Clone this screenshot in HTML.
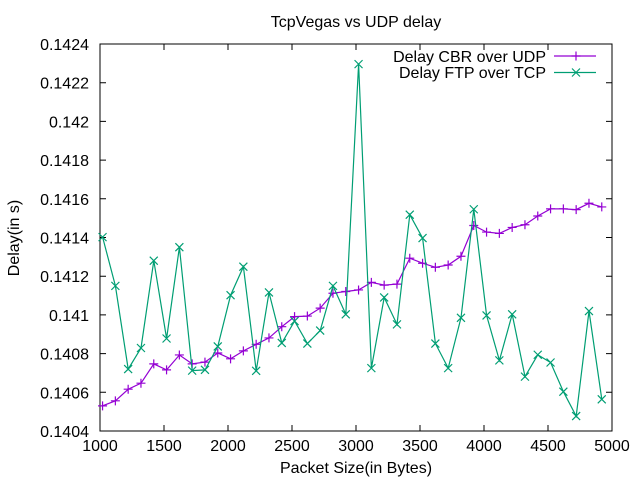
<!DOCTYPE html>
<html><head><meta charset="utf-8"><style>
body{margin:0;background:#fff;}
svg{display:block;font-family:"Liberation Sans",sans-serif;}
</style></head><body>
<svg id="chart" width="640" height="480" viewBox="0 0 640 480" xmlns="http://www.w3.org/2000/svg">
<rect width="640" height="480" fill="#fff"/>
<text x="356" y="27" font-size="16" text-anchor="middle">TcpVegas vs UDP delay</text>
<text transform="translate(19,238) rotate(-90)" font-size="16" text-anchor="middle">Delay(in s)</text>
<text x="356" y="473" font-size="16" text-anchor="middle">Packet Size(in Bytes)</text>
<g id="axes"></g>
<g id="series"></g>
<g>
<text x="546" y="62" font-size="16" text-anchor="end">Delay CBR over UDP</text>
<line x1="554" y1="56" x2="596" y2="56" stroke="#9400d3" stroke-width="1.2"/>
<path d="M571.5 56h9M576 51.5v9" stroke="#9400d3" stroke-width="1.2"/>
<text x="546" y="78" font-size="16" text-anchor="end">Delay FTP over TCP</text>
<line x1="554" y1="72.5" x2="596" y2="72.5" stroke="#009e73" stroke-width="1.2"/>
<path d="M572 68.5l8 8M580 68.5l-8 8" stroke="#009e73" stroke-width="1.2"/>
</g>
</svg>
<script>
const xValues = [1020,1120,1220,1320,1420,1520,1620,1720,1820,1920,2020,2120,2220,2320,2420,2520,2620,2720,2820,2920,3020,3120,3220,3320,3420,3520,3620,3720,3820,3920,4020,4120,4220,4320,4420,4520,4620,4720,4820,4920];
const cbrDelay = [0.14053,0.140556,0.140616,0.140647,0.140747,0.140716,0.140793,0.140747,0.140756,0.140803,0.140773,0.140814,0.140848,0.140881,0.140939,0.140991,0.140994,0.141035,0.141112,0.141121,0.141129,0.141168,0.141154,0.141159,0.141293,0.141267,0.141246,0.141258,0.141303,0.141462,0.141428,0.141421,0.141452,0.141466,0.141511,0.141548,0.141548,0.141544,0.141577,0.141558];
const ftpDelay = [0.141402,0.14115,0.14072,0.140829,0.14128,0.140878,0.14135,0.140712,0.140716,0.140837,0.141102,0.141249,0.140711,0.141116,0.140855,0.140968,0.140852,0.140919,0.14115,0.141003,0.142296,0.140725,0.14109,0.140951,0.141518,0.141397,0.140852,0.140725,0.140985,0.141546,0.140997,0.140765,0.141003,0.140681,0.140794,0.140754,0.140603,0.140477,0.14102,0.140564];
const xTicks = [1000,1500,2000,2500,3000,3500,4000,4500,5000];
const yTicks = [0.1404,0.1406,0.1408,0.141,0.1412,0.1414,0.1416,0.1418,0.142,0.1422,0.1424];
const yTickLabels = ["0.1404","0.1406","0.1408","0.141","0.1412","0.1414","0.1416","0.1418","0.142","0.1422","0.1424"];

const L=100,R=612,T=44,B=431;
const NS="http://www.w3.org/2000/svg";
function sx(v){return L+(v-1000)/4000*(R-L);}
function sy(v){return B-(v-0.1404)/0.002*(B-T);}
function mk(tag,attrs,parent){const e=document.createElementNS(NS,tag);for(const k in attrs)e.setAttribute(k,attrs[k]);parent.appendChild(e);return e;}
const axes=document.getElementById('axes');
xTicks.forEach(t=>{
  const x=sx(t);
  const tk=mk('path',{d:`M${x} ${B}v-6M${x} ${T}v6`,stroke:'#000','stroke-width':1},axes);
  
  
  const lb=mk('text',{x:x,y:B+20,'font-size':16,'text-anchor':'middle'},axes);
  lb.textContent=t;
  
  
});
yTicks.forEach((t,i)=>{
  const y=sy(t);
  const tk=mk('path',{d:`M${L} ${y}h6M${R} ${y}h-6`,stroke:'#000','stroke-width':1},axes);
  
  
  const lb=mk('text',{x:L-11,y:y+6,'font-size':16,'text-anchor':'end'},axes);
  lb.textContent=yTickLabels[i];
  
  
});
const frame=mk('rect',{x:L,y:T,width:R-L,height:B-T,fill:'none',stroke:'#000','stroke-width':1},axes);



const ser=document.getElementById('series');
function drawSeries(vals,color,name,cross){
  const g=mk('g',{},ser);
  
  
  const pts=vals.map((v,i)=>sx(xValues[i]).toFixed(1)+','+sy(v).toFixed(1)).join(' ');
  const pl=mk('polyline',{points:pts,fill:'none',stroke:color,'stroke-width':1.2},g);
  
  
  vals.forEach((v,i)=>{
    const x=sx(xValues[i]),y=sy(v);
    const d=cross?`M${x-4} ${y-4}l8 8M${x+4} ${y-4}l-8 8`:`M${x-4.5} ${y}h9M${x} ${y-4.5}v9`;
    const p=mk('path',{d:d,stroke:color,'stroke-width':1.2},g);
    
    
  });
}
drawSeries(cbrDelay,'#9400d3','cbr-series',false);
drawSeries(ftpDelay,'#009e73','ftp-series',true);
</script>
</body></html>
